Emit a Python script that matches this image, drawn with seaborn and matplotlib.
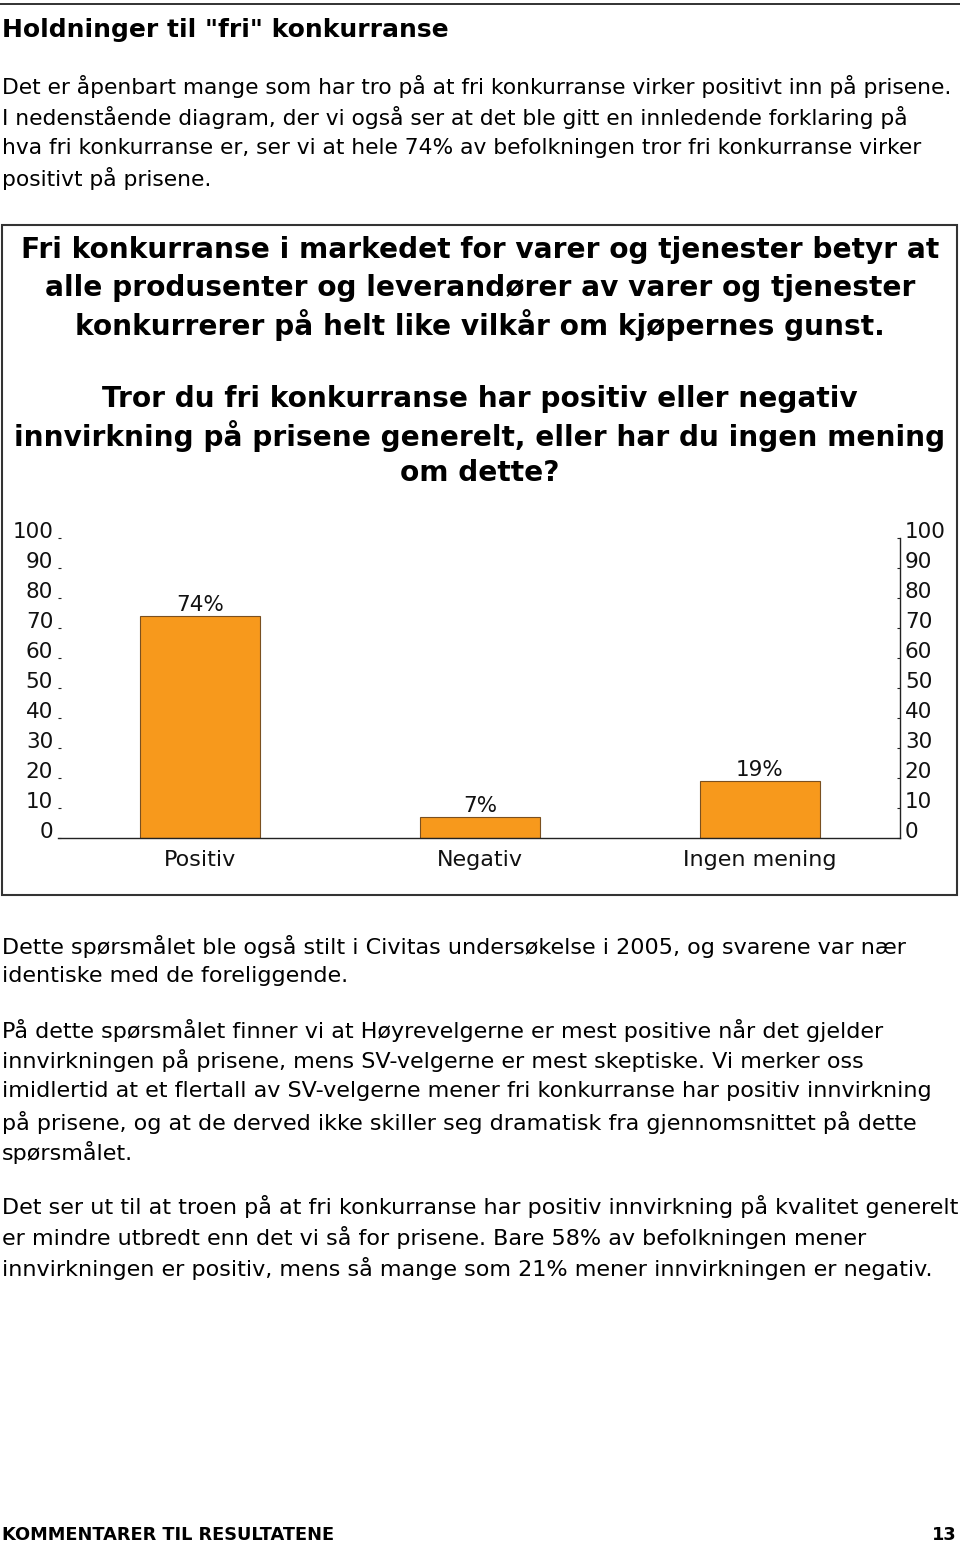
import matplotlib
matplotlib.use("Agg")
import matplotlib.pyplot as plt
import seaborn as sns
import pandas as pd
from matplotlib.patches import Rectangle
from matplotlib.lines import Line2D

categories = ["Positiv", "Negativ", "Ingen mening"]
values = [74, 7, 19]
value_labels = ["74%", "7%", "19%"]
yticks = [0, 10, 20, 30, 40, 50, 60, 70, 80, 90, 100]

page_title = 'Holdninger til "fri" konkurranse'
intro_lines = [
    "Det er åpenbart mange som har tro på at fri konkurranse virker positivt inn på prisene.",
    "I nedenstående diagram, der vi også ser at det ble gitt en innledende forklaring på",
    "hva fri konkurranse er, ser vi at hele 74% av befolkningen tror fri konkurranse virker",
    "positivt på prisene.",
]
chart_def_lines = [
    "Fri konkurranse i markedet for varer og tjenester betyr at",
    "alle produsenter og leverandører av varer og tjenester",
    "konkurrerer på helt like vilkår om kjøpernes gunst.",
]
chart_q_lines = [
    "Tror du fri konkurranse har positiv eller negativ",
    "innvirkning på prisene generelt, eller har du ingen mening",
    "om dette?",
]
para1 = [
    "Dette spørsmålet ble også stilt i Civitas undersøkelse i 2005, og svarene var nær",
    "identiske med de foreliggende.",
]
para2 = [
    "På dette spørsmålet finner vi at Høyrevelgerne er mest positive når det gjelder",
    "innvirkningen på prisene, mens SV-velgerne er mest skeptiske. Vi merker oss",
    "imidlertid at et flertall av SV-velgerne mener fri konkurranse har positiv innvirkning",
    "på prisene, og at de derved ikke skiller seg dramatisk fra gjennomsnittet på dette",
    "spørsmålet.",
]
para3 = [
    "Det ser ut til at troen på at fri konkurranse har positiv innvirkning på kvalitet generelt",
    "er mindre utbredt enn det vi så for prisene. Bare 58% av befolkningen mener",
    "innvirkningen er positiv, mens så mange som 21% mener innvirkningen er negativ.",
]
footer_left = "KOMMENTARER TIL RESULTATENE"
footer_right = "13"

sns.set_theme(style="white")
plt.rcParams["font.family"] = ["DejaVu Sans"]

W, H = 960, 1543
fig = plt.figure(figsize=(W / 100, H / 100), dpi=100)


def fx(x):
    return x / W


def fy(y):
    return 1 - y / H


def ftext(x, y, s, **kw):
    kw.setdefault("va", "center")
    kw.setdefault("color", "black")
    fig.text(fx(x), fy(y), s, **kw)


# top rule
fig.add_artist(Line2D([0, 1], [fy(4), fy(4)], color="#222222", lw=1.3))
ftext(2, 30, page_title, fontsize=18, fontweight="bold")

for i, line in enumerate(intro_lines):
    ftext(2, 87 + i * 30.5, line, fontsize=15.7)

# box around chart
fig.add_artist(Rectangle((fx(2), fy(895)), fx(957) - fx(2), fy(225) - fy(895),
                         fill=False, edgecolor="#333333", lw=1.5))

for i, line in enumerate(chart_def_lines):
    ftext(480, 250 + i * 37.5, line, fontsize=20.2, fontweight="bold", ha="center")
for i, line in enumerate(chart_q_lines):
    ftext(480, 399 + i * 37, line, fontsize=20.2, fontweight="bold", ha="center")

# chart axes
ax = fig.add_axes([fx(58), fy(838), fx(900) - fx(58), fy(538) - fy(838)])
df = pd.DataFrame({"kategori": categories, "verdi": values})
sns.barplot(data=df, x="kategori", y="verdi", ax=ax, color="#F7991C",
            width=0.43, edgecolor="#7a5020", linewidth=0.8, saturation=1)
ax.set_xlim(-0.507, 2.5)
ax.set_ylim(0, 100)
ax.set_xlabel("")
ax.set_ylabel("")
for spine in ["left", "top"]:
    ax.spines[spine].set_visible(False)
ax.spines["bottom"].set_color("#222222")
ax.spines["bottom"].set_linewidth(1.0)
ax.spines["right"].set_color("#222222")
ax.spines["right"].set_linewidth(1.0)
ax.set_yticks(yticks)
ax.set_yticklabels([str(t) for t in yticks])
ax.tick_params(axis="y", left=True, right=True, labelleft=True, labelright=True,
               direction="in", length=2.5, width=0.8, color="#222222",
               labelsize=15.5, pad=3.5, labelcolor="#111111")
for lab in ax.get_yticklabels():
    lab.set_va("baseline")
ax.tick_params(axis="x", bottom=False, labelsize=16, pad=3, labelcolor="#111111")
for bar, lab in zip(ax.patches, value_labels):
    ax.annotate(lab, (bar.get_x() + bar.get_width() / 2, bar.get_height()),
                xytext=(0, 1), textcoords="offset points", ha="center",
                va="bottom", fontsize=15.5, color="#111111")

for i, line in enumerate(para1):
    ftext(2, 946 + i * 30.5, line, fontsize=16)
for i, line in enumerate(para2):
    ftext(2, 1030 + i * 30.7, line, fontsize=16)
for i, line in enumerate(para3):
    ftext(2, 1207 + i * 30.5, line, fontsize=16)

ftext(2, 1535, footer_left, fontsize=12.8, fontweight="bold")
ftext(957, 1535, footer_right, fontsize=12.8, fontweight="bold", ha="right")

fig.savefig("out.png", dpi=100)
